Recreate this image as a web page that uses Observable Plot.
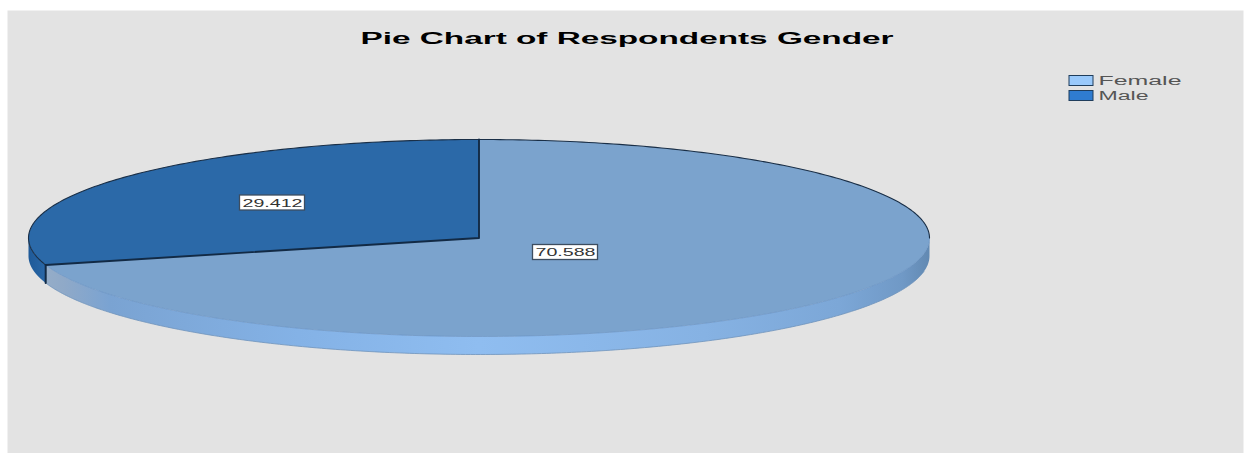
<!DOCTYPE html>
<html>
<head>
<meta charset="utf-8">
<script src="https://cdn.jsdelivr.net/npm/d3@7"></script>
<script src="https://cdn.jsdelivr.net/npm/@observablehq/plot@0.6"></script>
<style>html,body{margin:0;padding:0;background:#fff}svg{display:block}</style>
</head>
<body>
<div id="chart"></div>
<script>
const genders = ["Female", "Male"];
const percents = [70.588, 29.412];
const labels = ["70.588", "29.412"];
const legendColors = ["#99c9fb", "#2f7cd0"];
const faceColors = ["#7ba3cd", "#2b69a8"];
const titleText = "Pie Chart of Respondents Gender";

// pie geometry in plot units
const cx = 478.5, cy = 237.5, rx = 450.5, ry = 98.5, depth = 18;
const total = d3.sum(percents);
const pt = (a, dy = 0) => ({x: cx + rx * Math.sin(a), y: cy - ry * Math.cos(a) + dy});
const arc = (a0, a1, dy = 0) => d3.range(0, 241).map(i => pt(a0 + (a1 - a0) * i / 240, dy));
const rad = p => p / total * 2 * Math.PI;

const a1 = rad(percents[0]);
const femaleFace = [{x: cx, y: cy}, ...arc(0, a1), {x: cx, y: cy}];
const maleFace = [{x: cx, y: cy}, ...arc(a1, 2 * Math.PI), {x: cx, y: cy}];
const femaleWall = [...arc(Math.PI / 2, a1), ...arc(a1, Math.PI / 2, depth)];
const maleWall = [...arc(a1, 1.5 * Math.PI), ...arc(1.5 * Math.PI, a1, depth)];
const topEdge = arc(a1, 2.5 * Math.PI);
const frontEdge = arc(Math.PI / 2, a1);
const lowerEdge = arc(Math.PI * 0.55, a1, depth);
const cutLine = [pt(0), {x: cx, y: cy}, pt(a1)];
const cutDrop = [pt(a1), pt(a1, depth)];
const labelPos = [{x: 565, y: 252}, {x: 272, y: 202.5}];
const labelRows = genders.map((g, i) => ({gender: g, label: labels[i], ...labelPos[i]}));
const legendRows = genders.map((g, i) => ({gender: g, i}));

const defs = () => {
  const s = d3.create("svg:defs");
  const grad = (id, stops) => {
    const g = s.append("linearGradient").attr("id", id)
      .attr("gradientUnits", "userSpaceOnUse")
      .attr("x1", 28).attr("x2", 929).attr("y1", 0).attr("y2", 0);
    stops.forEach(([o, c]) => g.append("stop").attr("offset", o).attr("stop-color", c));
  };
  grad("femaleSide", [[0, "#9ab0c8"], [0.04, "#8fa9c8"], [0.09, "#7aa3d2"], [0.3, "#84b2e6"], [0.5, "#8fbdf0"], [0.75, "#86b2e3"], [0.9, "#7ca7d7"], [0.97, "#7099c6"], [1, "#6289b2"]]);
  grad("maleSide", [[0, "#1f5a98"], [0.02, "#2a68a8"]]);
  return s.node();
};

const stretch = (len) => (index, scales, values, dims, ctx, next) => {
  const g = next(index, scales, values, dims, ctx);
  d3.select(g).selectAll("text").each(function (_, j) {
    const L = typeof len === "function" ? len(index[j]) : len;
    d3.select(this).attr("textLength", L).attr("lengthAdjust", "spacingAndGlyphs");
  });
  return g;
};

const font = "'Liberation Sans', Arial, sans-serif";

const chart = Plot.plot({
  width: 1244, height: 453,
  margin: 0,
  style: {background: "#ffffff", fontFamily: font},
  x: {domain: [0, 1244], range: [0, 1244], axis: null},
  y: {domain: [0, 453], range: [0, 453], axis: null},
  color: {domain: genders, range: legendColors},
  marks: [
    defs,
    Plot.frame({fill: "#e3e3e3", stroke: null, insetLeft: 7, insetTop: 10, insetRight: 1}),
    Plot.line(femaleWall, {x: "x", y: "y", fill: "url(#femaleSide)", stroke: "none"}),
    Plot.line(maleWall, {x: "x", y: "y", fill: "url(#maleSide)", stroke: "none"}),
    Plot.line(femaleFace, {x: "x", y: "y", fill: faceColors[0], stroke: "none"}),
    Plot.line(maleFace, {x: "x", y: "y", fill: faceColors[1], stroke: "none"}),
    Plot.line(frontEdge, {x: "x", y: "y", stroke: "#6a94c4", strokeWidth: 0.7}),
    Plot.line(lowerEdge, {x: "x", y: "y", stroke: "#6f93bb", strokeWidth: 0.8}),
    Plot.line(topEdge, {x: "x", y: "y", stroke: "#1a2f47", strokeWidth: 1.1}),
    Plot.line(cutLine, {x: "x", y: "y", stroke: "#122a45", strokeWidth: 1.9}),
    Plot.line(cutDrop, {x: "x", y: "y", stroke: "#122a45", strokeWidth: 2}),
    Plot.rect(labelRows, {
      x1: d => d.x - 32.5, x2: d => d.x + 32.5,
      y1: d => d.y - 7.5, y2: d => d.y + 7.5,
      fill: "#ffffff", stroke: "#3d4d60", strokeWidth: 1.3
    }),
    Plot.text(labelRows, {
      x: "x", y: "y", text: "label", fontSize: 11, fill: "#333333",
      render: stretch(60)
    }),
    Plot.text([titleText], {
      x: () => 626.5, y: () => 38.5, text: d => d, fontSize: 16, fontWeight: "bold", fill: "#000000",
      render: stretch(533)
    }),
    Plot.rect(legendRows, {
      x1: () => 1069, x2: () => 1093,
      y1: d => 75.5 + d.i * 15, y2: d => 85.5 + d.i * 15,
      fill: "gender", stroke: "#1f3d5c", strokeWidth: 1
    }),
    Plot.text(legendRows, {
      x: () => 1098, y: d => 81 + d.i * 15, text: "gender", textAnchor: "start",
      fontSize: 12, fill: "#555555",
      render: stretch(i => [83, 50][i])
    })
  ]
});
document.getElementById("chart").append(chart);
</script>
</body>
</html>
